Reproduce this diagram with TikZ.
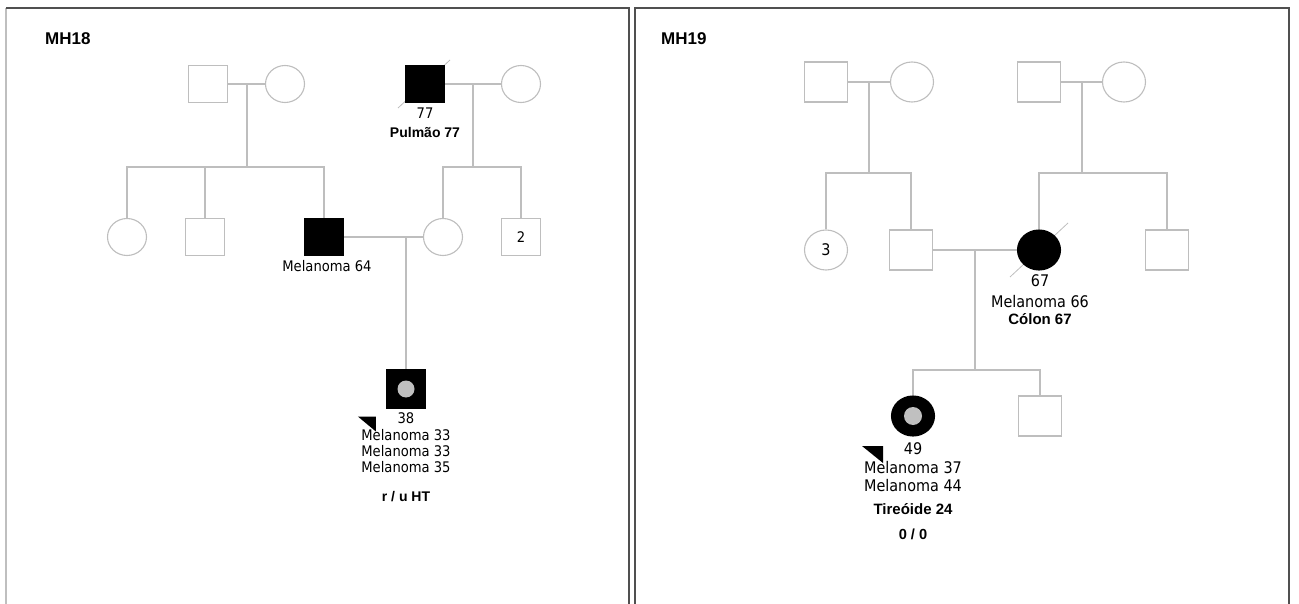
\documentclass[tikz,border=0pt]{standalone}
\usepackage{fontspec}
\setmainfont{DejaVu Sans Condensed}
\newfontfamily\arialfont{Liberation Sans}
\usepackage{tikz}
\usetikzlibrary{positioning,calc,shapes.geometric}
\definecolor{pedgrey}{RGB}{190,190,190}
\definecolor{framegrey}{RGB}{80,80,80}
\definecolor{dotgrey}{RGB}{192,192,192}
\newcommand{\plain}[1]{\fontsize{#1}{#1}\selectfont}
\newcommand{\heavy}[1]{\arialfont\bfseries\fontsize{#1}{#1}\selectfont}
\tikzset{
  ped/.style={draw=pedgrey, line width=1.1pt},
  male/.style={rectangle, ped, fill=white, minimum width=39pt, minimum height=37pt, inner sep=0pt},
  female/.style={ellipse, ped, fill=white, minimum width=39pt, minimum height=37pt, inner sep=0pt},
  wide/.style={minimum width=43pt, minimum height=40pt},
  sick/.style={fill=black, draw=black},
  died/.style={draw=pedgrey, line width=0.8pt},
  txt/.style={inner sep=0pt, anchor=base},
}

\begin{document}
\begin{tikzpicture}[x=1pt,y=-1pt]
\useasboundingbox (0,0) rectangle (1299,604);
% panel frames
\draw[black!25, line width=1.5pt] (6,604) -- (6,8);
\draw[framegrey, line width=2pt] (6,8) -- (629,8) -- (629,604);
\draw[framegrey, line width=2pt] (635,604) -- (635,8) -- (1289,8) -- (1289,604);

% ---- MH18 ----
\node[txt, anchor=base west] (h18) at (45,45) {\heavy{17}MH18};
\coordinate (a3c) at (425,84);
\draw[died] ($(a3c)+(-27,24)$) -- ($(a3c)+(25,-24)$);
\node[male] (a1) at (208,84) {};
\node[female] (a2) at (285,84) {};
\node[male, sick] (a3) at (a3c) {};
\node[female] (a4) at (521,84) {};
\node[female] (b1) at (127,237) {};
\node[male] (b2) at (205,237) {};
\node[male, sick] (b3) at (324,237) {};
\node[female] (b4) at (443,237) {};
\node[male] (b5) at (521,237) {\plain{14.6}2};
\node[male, sick, minimum height=38pt] (pro) at (406,389) {};
\fill[dotgrey] (pro.center) circle (8.5);
\fill[black] ($(pro.south west)+(-28,8)$) -- ++(18,0) -- ++(0,15) -- cycle;

\coordinate (m1) at (247,84);  \coordinate (s1) at (247,167);
\coordinate (m2) at (473,84);  \coordinate (s2) at (473,167);
\coordinate (m3) at (406,237);
\draw[ped] (a1) -- (a2);
\draw[ped] (a3) -- (a4);
\draw[ped] (b3) -- (b4);
\draw[ped] (m1) -- (s1);
\draw[ped] (b1.north) |- (s1) -| (b3.north);
\draw[ped] (b2.north) -- (b2.north |- s1);
\draw[ped] (m2) -- (s2);
\draw[ped] (b4.north) |- (s2) -| (b5.north);
\draw[ped] (m3) -- (pro.north);

\node[txt] (t77) at (425,119) {\plain{14.6}77};
\node[txt] (pul) at (425,138) {\heavy{14}Pulmão 77};
\node[txt] (mel64) at (327,272) {\plain{14.6}Melanoma 64};
\node[txt] (t38) at (406,423) {\plain{14.6}38};
\node[txt] (mel33a) at (406,440) {\plain{14.6}Melanoma 33};
\node[txt] (mel33b) at (406,456) {\plain{14.6}Melanoma 33};
\node[txt] (mel35) at (406,472) {\plain{14.6}Melanoma 35};
\node[txt] (ruht) at (406,501) {\heavy{14}r / u HT};

% ---- MH19 ----
\node[txt, anchor=base west] (h19) at (661,45) {\heavy{17}MH19};
\coordinate (d3c) at (1039,250);
\draw[died] ($(d3c)+(-29,27)$) -- ($(d3c)+(29,-27)$);
\node[male, wide] (c1) at (826,82) {};
\node[female, wide] (c2) at (912,82) {};
\node[male, wide] (c3) at (1039,82) {};
\node[female, wide] (c4) at (1124,82) {};
\node[female, wide] (d1) at (826,250) {\plain{16}3};
\node[male, wide] (d2) at (911,250) {};
\node[female, wide, sick] (d3) at (d3c) {};
\node[male, wide] (d4) at (1167,250) {};
\node[female, wide, sick] (pro2) at (913,416) {};
\node[male, wide] (e2) at (1040,416) {};
\fill[dotgrey] (pro2.center) circle (9);
\fill[black] ($(pro2.center)+(-51,30)$) -- ++(21,0) -- ++(0,17) -- cycle;

\coordinate (m4) at (869,82);  \coordinate (s4) at (869,173);
\coordinate (m5) at (1082,82); \coordinate (s5) at (1082,173);
\coordinate (m6) at (975,250); \coordinate (s6) at (975,370);
\draw[ped] (c1) -- (c2);
\draw[ped] (c3) -- (c4);
\draw[ped] (d2) -- (d3);
\draw[ped] (m4) -- (s4);
\draw[ped] (d1.north) |- (s4) -| (d2.north);
\draw[ped] (m5) -- (s5);
\draw[ped] (d3.north) |- (s5) -| (d4.north);
\draw[ped] (m6) -- (s6);
\draw[ped] (pro2.north) |- (s6) -| (e2.north);

\node[txt] (t67) at (1040,287) {\plain{16}67};
\node[txt] (mel66) at (1040,307) {\plain{16}Melanoma 66};
\node[txt] (col) at (1040,324) {\heavy{15}Cólon 67};
\node[txt] (t49) at (913,454) {\plain{16}49};
\node[txt] (mel37) at (913,473) {\plain{16}Melanoma 37};
\node[txt] (mel44) at (913,491) {\plain{16}Melanoma 44};
\node[txt] (tir) at (913,514) {\heavy{15}Tireóide 24};
\node[txt] (zero) at (913,539) {\heavy{14.6}0 / 0};
\end{tikzpicture}
\end{document}
